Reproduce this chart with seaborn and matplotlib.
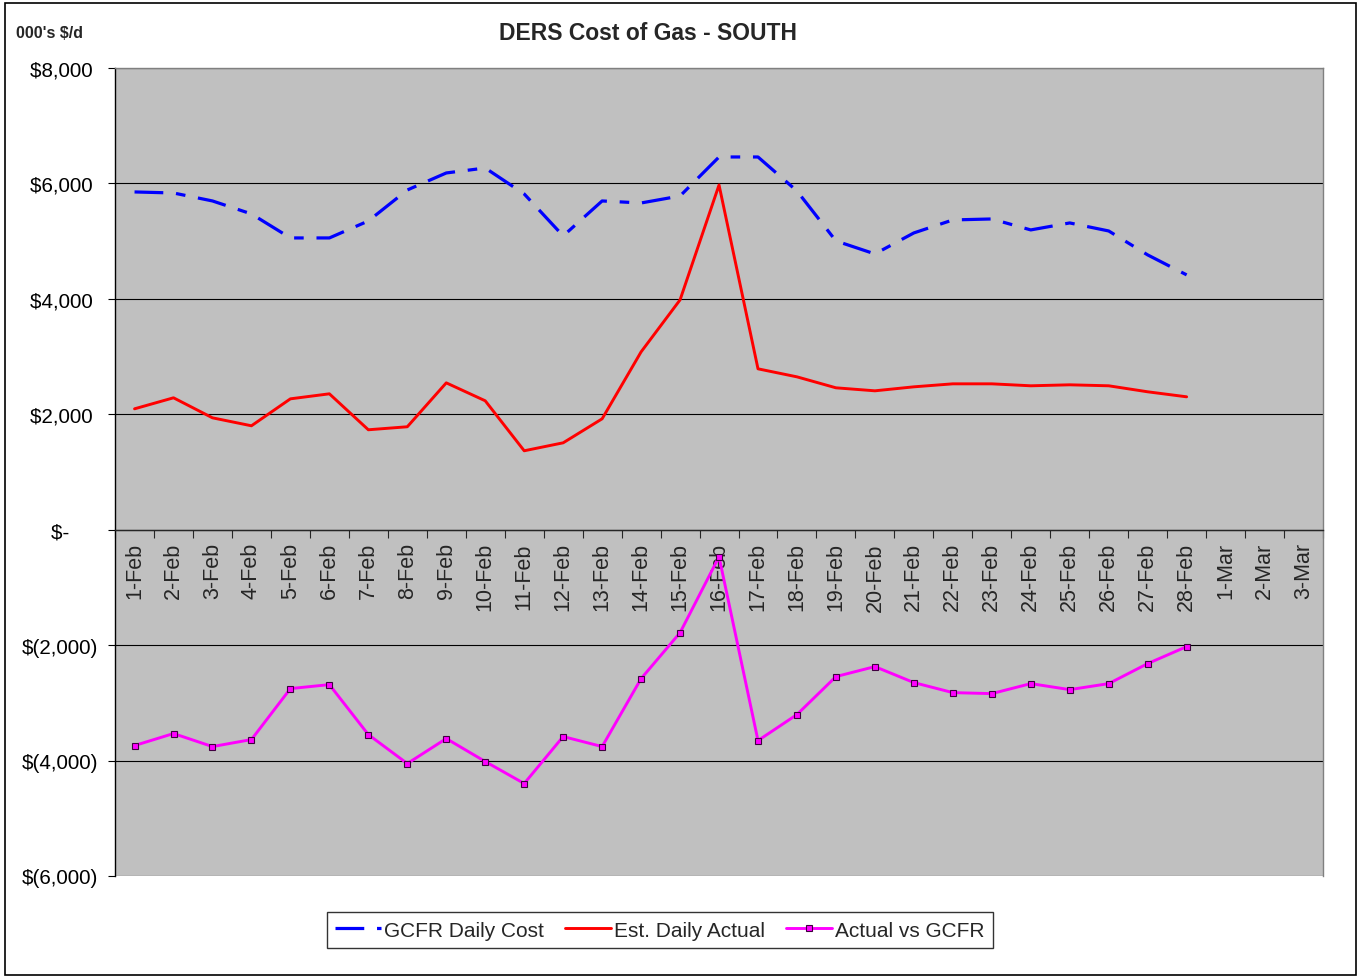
import numpy as np
import pandas as pd
import seaborn as sns
import matplotlib.pyplot as plt
from matplotlib.patches import Rectangle
from matplotlib.ticker import FuncFormatter

days = [f'{d}-Feb' for d in range(1, 29)] + ['1-Mar', '2-Mar', '3-Mar']

gcfr = [5853, 5835, 5697, 5472, 5056, 5056, 5350, 5887, 6182, 6268,
        5818, 5091, 5697, 5662, 5783, 6459, 6459, 5870, 5004, 4779,
        5143, 5368, 5385, 5195, 5316, 5177, 4762, 4416]
est_actual = [2095, 2286, 1939, 1801, 2268, 2355, 1732, 1784, 2545, 2234,
              1368, 1506, 1922, 3082, 3983, 5974, 2788, 2649, 2459, 2407,
              2476, 2528, 2528, 2494, 2511, 2494, 2390, 2303]
actual_vs = [-3740, -3532, -3758, -3636, -2753, -2684, -3550, -4052, -3619, -4017,
             -4398, -3584, -3758, -2580, -1784, -468, -3654, -3203, -2545, -2372,
             -2649, -2823, -2840, -2667, -2771, -2667, -2320, -2026]

n = len(gcfr)
df = pd.DataFrame({'pos': np.arange(n), 'gcfr': gcfr, 'est': est_actual, 'diff': actual_vs})

sns.set_style("white")
plt.rcParams['font.family'] = ['Liberation Sans', 'DejaVu Sans']

fig = plt.figure(figsize=(13.6, 9.78), dpi=100)
ax = fig.add_axes([0.0846, 0.1033, 0.8882, 0.8261])
ax.set_facecolor('#C0C0C0')

ax.set_ylim(-6000, 8000)
ax.set_xlim(-0.5, len(days) - 0.5)
ax.set_yticks(range(-6000, 8001, 2000))
for v in range(-6000, 8001, 2000):
    ax.axhline(v, color='black', lw=0.8, zorder=1)

sns.lineplot(data=df, x='pos', y='gcfr', ax=ax, color='#0000FF', lw=2.3,
             dashes=False, label='GCFR Daily Cost', zorder=3)
ax.lines[-1].set_dashes([9, 4, 3, 4])
sns.lineplot(data=df, x='pos', y='est', ax=ax, color='#FF0000', lw=2.1,
             label='Est. Daily Actual', zorder=3)
sns.lineplot(data=df, x='pos', y='diff', ax=ax, color='#FF00FF', lw=2.1,
             marker='s', markersize=4.5, markerfacecolor='#FF00FF',
             markeredgecolor='#400040', markeredgewidth=0.8,
             label='Actual vs GCFR', zorder=3)

def money(v, p):
    if v == 0:
        return '$-     '
    if v < 0:
        return '$({:,.0f})'.format(-v)
    return '${:,.0f} '.format(v)

ax.yaxis.set_major_formatter(FuncFormatter(money))
ax.tick_params(axis='y', labelsize=14.9, length=5, width=0.8, direction='out',
               left=True, pad=7.2, colors='black')

# category axis sits at zero
ax.spines['bottom'].set_position(('data', 0))
ax.spines['bottom'].set_linewidth(1.0)
for s in ['top', 'right']:
    ax.spines[s].set_color('#808080')
    ax.spines[s].set_linewidth(1.0)
ax.spines['left'].set_color('black')
ax.spines['left'].set_linewidth(1.0)

ax.set_xticks(np.arange(len(days)))
ax.set_xticklabels(days, rotation=90, fontsize=15.5)
ax.set_xticks(np.arange(len(days) + 1) - 0.5, minor=True)
ax.tick_params(axis='x', which='major', length=0, pad=9, bottom=True)
ax.tick_params(axis='x', which='minor', length=6, width=0.8, direction='out', bottom=True)

ax.set_xlabel('')
ax.set_ylabel('')

fig.text(0.4765, 0.966, 'DERS Cost of Gas - SOUTH', fontsize=16.5, fontweight='bold',
         ha='center', va='center')
fig.text(0.012, 0.966, "000's $/d", fontsize=11.5, fontweight='bold', va='center')

leg = ax.legend(loc='upper center', bbox_to_anchor=(0.451, -0.045), ncol=3,
                fontsize=15, frameon=True, fancybox=False, edgecolor='black',
                handlelength=2.2, columnspacing=1.0, borderpad=0.4, handletextpad=0.15,
                borderaxespad=0)
leg.get_frame().set_linewidth(1.0)

fig.add_artist(Rectangle((0.004, 0.002), 0.993, 0.994, transform=fig.transFigure,
                         fill=False, edgecolor='black', lw=1.2))

fig.savefig('out.png', dpi=100, facecolor='white')
